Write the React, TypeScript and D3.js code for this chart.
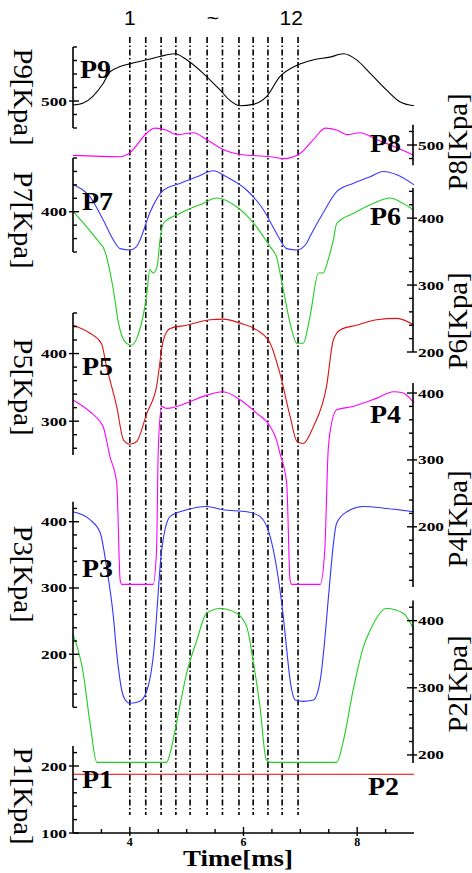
import React from 'react';
import * as d3 from 'd3';

// ---- data ----
const timeDomain: [number, number] = [3, 9];
const xMajorTicks = [4, 6, 8];
const markerTimes = [4.0, 4.28, 4.55, 4.81, 5.06, 5.36, 5.63, 5.92, 6.17, 6.43, 6.68, 6.96];
const markerLabels = ['1', '~', '12'];
const markerLabelTimes = [4.0, 5.46, 6.84];

const p9Time = [3.0, 3.18, 3.53, 3.65, 3.83, 4.0, 4.3, 4.53, 4.79, 5.0, 5.29, 5.59, 5.76, 5.94, 6.17, 6.4, 6.64, 6.94, 7.23, 7.52, 7.76, 7.99, 8.23, 8.52, 8.75, 9.0];
const p9Val = [494, 497, 526, 543, 551, 555, 561, 566, 570, 561, 541, 516, 501, 493, 495, 506, 536, 553, 561, 565, 570, 561, 541, 516, 499, 493];

const p8Time = [3.0, 3.83, 4.0, 4.3, 4.44, 4.65, 4.82, 5.12, 5.35, 5.64, 5.94, 6.47, 6.7, 6.97, 7.23, 7.44, 7.65, 7.82, 8.05, 8.34, 8.64, 9.0];
const p8Val = [484.6, 482.7, 488.6, 517.8, 525, 521.7, 515.4, 518, 508, 493.4, 486, 482.7, 479.8, 486, 508, 525, 521.7, 515.4, 518, 508, 498, 484.6];

const p7Time = [3.0, 3.3, 3.53, 3.71, 3.83, 4.0, 4.12, 4.18, 4.35, 4.59, 4.88, 5.18, 5.47, 5.7, 6.06, 6.35, 6.58, 6.76, 6.94, 7.11, 7.17, 7.4, 7.64, 7.93, 8.23, 8.46, 8.7, 9.0];
const p7Val = [440, 422, 388, 358, 345, 343, 348, 358, 398, 432, 442, 452, 461, 452, 432, 403, 368, 345, 343, 353, 363, 398, 430, 442, 452, 460, 455, 440];

const p6Time = [3.0, 3.24, 3.48, 3.53, 3.71, 3.8, 3.94, 4.03, 4.12, 4.3, 4.35, 4.41, 4.48, 4.53, 4.59, 4.88, 5.29, 5.53, 5.88, 6.23, 6.47, 6.58, 6.7, 6.82, 6.94, 7.05, 7.17, 7.32, 7.4, 7.49, 7.58, 7.64, 7.93, 8.28, 8.58, 8.81, 9.0];
const p6Val = [410, 387, 362, 357, 293, 243, 213, 210, 220, 288, 323, 318, 328, 367, 392, 407, 422, 430, 417, 387, 357, 342, 293, 243, 213, 213, 253, 318, 318, 338, 367, 392, 407, 422, 430, 422, 412];

const p5Time = [3.0, 3.3, 3.5, 3.59, 3.77, 3.89, 4.0, 4.12, 4.3, 4.47, 4.59, 4.71, 5.0, 5.41, 5.64, 5.94, 6.23, 6.47, 6.64, 6.82, 6.94, 7.05, 7.23, 7.46, 7.58, 7.7, 7.99, 8.34, 8.7, 9.0];
const p5Val = [442, 430, 415, 381, 321, 272, 266, 270, 312, 351, 420, 437, 442, 450, 451, 445, 435, 415, 371, 307, 270, 267, 292, 351, 420, 435, 442, 450, 452, 442];

const p4Time = [3.0, 3.3, 3.48, 3.53, 3.65, 3.77, 3.83, 3.86, 4.41, 4.47, 4.5, 4.56, 4.65, 5.0, 5.29, 5.64, 5.94, 6.23, 6.47, 6.58, 6.64, 6.76, 6.82, 6.85, 7.35, 7.43, 7.49, 7.52, 7.64, 7.93, 8.34, 8.64, 8.81, 9.0];
const p4Val = [389.5, 372, 357, 350, 305, 265, 120, 114, 114, 165, 315, 380, 377, 385, 395, 402, 390, 370, 350, 330, 310, 265, 120, 114, 114, 165, 315, 340, 375, 380, 392, 402, 400, 385];

const p3Time = [3.0, 3.3, 3.48, 3.59, 3.71, 3.77, 3.89, 4.0, 4.18, 4.32, 4.44, 4.47, 4.56, 4.71, 5.0, 5.35, 5.64, 6.06, 6.29, 6.47, 6.58, 6.7, 6.76, 6.82, 6.91, 7.05, 7.23, 7.35, 7.43, 7.49, 7.64, 7.82, 8.11, 8.52, 9.0];
const p3Val = [415, 403, 383, 332, 257, 201, 136, 126, 129, 151, 222, 257, 357, 408, 418, 423, 418, 415, 408, 377, 332, 257, 207, 161, 131, 129, 131, 161, 222, 282, 398, 415, 423, 420, 415];

const p2Time = [3.0, 3.18, 3.3, 3.42, 4.65, 4.71, 4.82, 5.0, 5.18, 5.35, 5.59, 5.88, 6.06, 6.17, 6.29, 6.4, 6.47, 7.64, 7.76, 7.93, 8.11, 8.23, 8.52, 8.81, 9.0];
const p2Val = [380, 322, 247, 189, 189, 203, 247, 322, 371, 411, 418, 411, 390, 340, 272, 193, 189, 189, 222, 297, 361, 386, 418, 411, 386];

const p1Time = [3.0, 9.0];
const p1Val = [187.6, 187.6];

// ---- layout / styles ----
const W = 472, H = 873;
const LEFT = 73, RIGHT = 414;
const BOTTOM = 833;

type Panel = {
  name: string; side: 'left' | 'right'; domain: [number, number]; range: [number, number];
  major: number[]; t: number[]; v: number[]; color: string;
  labelPos: [number, number]; titleCenter: number;
};

const panels: Panel[] = [
  { name: 'P9', side: 'left', domain: [460, 580], range: [128, 47], major: [500], t: p9Time, v: p9Val, color: '#000000', labelPos: [80, 78], titleCenter: 97 },
  { name: 'P8', side: 'right', domain: [470, 530], range: [165.3, 124.7], major: [500], t: p8Time, v: p8Val, color: '#ff00ff', labelPos: [370, 152], titleCenter: 142 },
  { name: 'P7', side: 'left', domain: [340, 480], range: [252, 158], major: [400], t: p7Time, v: p7Val, color: '#3a3aff', labelPos: [82, 210], titleCenter: 220 },
  { name: 'P6', side: 'right', domain: [200, 445], range: [352, 188], major: [200, 300, 400], t: p6Time, v: p6Val, color: '#22cc22', labelPos: [370, 225], titleCenter: 321 },
  { name: 'P5', side: 'left', domain: [250, 460], range: [455, 313], major: [300, 400], t: p5Time, v: p5Val, color: '#dd1111', labelPos: [82, 375], titleCenter: 387 },
  { name: 'P4', side: 'right', domain: [110, 415], range: [587, 383], major: [200, 300, 400], t: p4Time, v: p4Val, color: '#ff00ff', labelPos: [370, 423], titleCenter: 519 },
  { name: 'P3', side: 'left', domain: [120, 430], range: [707.3, 501.8], major: [200, 300, 400], t: p3Time, v: p3Val, color: '#3333ff', labelPos: [82, 577], titleCenter: 574 },
  { name: 'P2', side: 'right', domain: [188, 430], range: [763, 600.5], major: [200, 300, 400], t: p2Time, v: p2Val, color: '#22cc22', labelPos: [368, 795], titleCenter: 684 },
  { name: 'P1', side: 'left', domain: [100, 230], range: [833, 745.9], major: [100, 200], t: p1Time, v: p1Val, color: '#ee0000', labelPos: [82, 788], titleCenter: 796 },
];

const x = d3.scaleLinear().domain(timeDomain).range([LEFT, RIGHT]);

function Axis({ p }: { p: Panel }) {
  const y = d3.scaleLinear().domain(p.domain).range(p.range);
  const ax = p.side === 'left' ? LEFT : 413;
  const dir = p.side === 'left' ? 1 : -1;
  const start = Math.ceil(p.domain[0] / 20) * 20;
  const ticks = d3.range(start, p.domain[1] + 0.01, 20);
  const titleTransform = p.side === 'left'
    ? `translate(14,${p.titleCenter}) rotate(90)`
    : `translate(467,${p.titleCenter}) rotate(-90)`;
  return (
    <g>
      <line x1={ax} x2={ax} y1={y(p.domain[0])} y2={y(p.domain[1])} stroke="#000" strokeWidth={1.6} />
      {ticks.map((t) => {
        const isMajor = p.major.includes(t);
        return (
          <line key={t} x1={isMajor ? ax - dir * 4 : ax} x2={ax + dir * (isMajor ? 6 : 4)} y1={y(t)} y2={y(t)} stroke="#000" strokeWidth={1.4} />
        );
      })}
      {p.major.map((m) => (
        <text key={'l' + m} x={p.side === 'left' ? 41 : 418} y={y(m) + 4.5}
          fontFamily="Liberation Serif" fontWeight="bold" fontSize={13}
          textLength={26} lengthAdjust="spacingAndGlyphs">{m}</text>
      ))}
      <text transform={titleTransform}
        textAnchor="middle" fontFamily="Liberation Serif" fontSize={27}
        textLength={97} lengthAdjust="spacingAndGlyphs">{p.name + '[Kpa]'}</text>
    </g>
  );
}

export default function App() {
  return (
    <svg width={W} height={H} style={{ position: 'absolute', left: 0, top: 0, background: '#fff' }}>
      <rect width={W} height={H} fill="#fff" />
      {/* marker lines */}
      {markerTimes.map((t, i) => (
        <line key={i} x1={x(t)} x2={x(t)} y1={37} y2={815} stroke="#000" strokeWidth={1.6} strokeDasharray="6,2.5,1.5,2.5" />
      ))}
      {markerLabels.map((l, i) => (
        <text key={i} x={x(markerLabelTimes[i])} y={25} textAnchor="middle" fontFamily="Liberation Sans" fontSize={21}>{l}</text>
      ))}
      {/* series */}
      {panels.map((p) => {
        const y = d3.scaleLinear().domain(p.domain).range(p.range);
        const line = d3.line<number>().x((_, i) => x(p.t[i])).y((v) => y(v)).curve(d3.curveMonotoneX);
        return <path key={p.name} d={line(p.v) || ''} fill="none" stroke={p.color} strokeWidth={1.1} />;
      })}
      {panels.map((p) => <Axis key={'a' + p.name} p={p} />)}
      {panels.map((p) => (
        <text key={'n' + p.name} x={p.labelPos[0]} y={p.labelPos[1]} fontFamily="Liberation Serif" fontWeight="bold" fontSize={25} textLength={31} lengthAdjust="spacingAndGlyphs">{p.name}</text>
      ))}
      {/* bottom axis */}
      <line x1={LEFT} x2={RIGHT} y1={BOTTOM} y2={BOTTOM} stroke="#000" strokeWidth={1.6} />
      {d3.range(3.5, 9, 0.5).map((t) => {
        const major = xMajorTicks.includes(t);
        return <line key={t} x1={x(t)} x2={x(t)} y1={BOTTOM - (major ? 6 : 4)} y2={BOTTOM + (major ? 3 : 0)} stroke="#000" strokeWidth={1.4} />;
      })}
      {xMajorTicks.map((t) => (
        <text key={t} x={x(t)} y={846} textAnchor="middle" fontFamily="Liberation Serif" fontWeight="bold" fontSize={12}>{t}</text>
      ))}
      <text x={238} y={866} textAnchor="middle" fontFamily="Liberation Serif" fontWeight="bold" fontSize={23} textLength={110} lengthAdjust="spacingAndGlyphs">Time[ms]</text>
    </svg>
  );
}
